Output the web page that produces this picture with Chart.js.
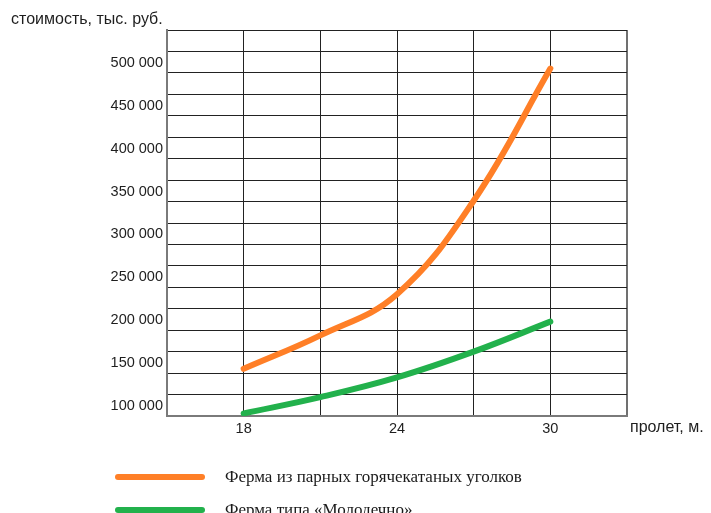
<!DOCTYPE html>
<html>
<head>
<meta charset="utf-8">
<script src="https://cdn.jsdelivr.net/npm/chart.js@4.4.1/dist/chart.umd.min.js"></script>
<style>
    html, body { margin: 0; padding: 0; background: #fff; }
    #wrap { position: relative; width: 711px; height: 513px; overflow: hidden; }
</style>
</head>
<body>
<div id="wrap"><canvas id="chart" width="711" height="513"></canvas></div>
<script>
// Span, m
const spans = [18, 21, 24, 27, 30];
// Cost, thousand rub.
const pairedAngles = [155000, 194000, 242000, 351000, 505000];
const molodechno = [103000, 122000, 145000, 175000, 210000];
const seriesNames = ['Ферма из парных горячекатаных уголков', 'Ферма типа «Молодечно»'];
const xTickLabels = [18, 24, 30];
const yTickLabels = [100000, 150000, 200000, 250000, 300000, 350000, 400000, 450000, 500000];
const yTitle = 'стоимость, тыс. руб.';
const xTitle = 'пролет, м.';

const formatNum = (v) => String(v).replace(/\B(?=(\d{3})+(?!\d))/g, ' ');

// axis titles and legend drawn around the plot
const extras = {
    id: 'extras',
    afterDraw(chart) {
        const { ctx, chartArea } = chart;
        ctx.save();
        ctx.fillStyle = '#1e1e1e';
        ctx.textBaseline = 'middle';
        ctx.font = '16px "Liberation Sans", Arial, sans-serif';
        ctx.textAlign = 'left';
        ctx.fillText(yTitle, 11, 20);
        ctx.fillText(xTitle, chartArea.right + 3, 428);

        const rows = [477, 510];
        chart.data.datasets.forEach((ds, i) => {
            ctx.strokeStyle = ds.borderColor;
            ctx.lineWidth = 6;
            ctx.lineCap = 'round';
            ctx.beginPath();
            ctx.moveTo(118, rows[i]);
            ctx.lineTo(202, rows[i]);
            ctx.stroke();
            ctx.font = '17px "Liberation Serif", "Times New Roman", serif';
            ctx.fillStyle = '#1a1a1a';
            ctx.fillText(ds.label, 225, rows[i] + 1);
        });
        ctx.restore();
    }
};

const tickFont = { family: '"Liberation Sans", Arial, sans-serif', size: 14.5 };

new Chart(document.getElementById('chart'), {
    type: 'line',
    data: {
        labels: spans,
        datasets: [
            {
                label: seriesNames[0],
                data: spans.map((x, i) => ({ x: x, y: pairedAngles[i] })),
                borderColor: '#ff7f27',
                borderWidth: 6,
                borderCapStyle: 'round',
                tension: 0.4,
                pointRadius: 0,
                fill: false
            },
            {
                label: seriesNames[1],
                data: spans.map((x, i) => ({ x: x, y: molodechno[i] })),
                borderColor: '#22b14c',
                borderWidth: 6,
                borderCapStyle: 'round',
                tension: 0.4,
                pointRadius: 0,
                fill: false
            }
        ]
    },
    options: {
        responsive: false,
        animation: false,
        layout: { padding: { left: 0, top: 30, right: 84, bottom: 67 } },
        plugins: {
            legend: { display: false },
            tooltip: { enabled: false }
        },
        scales: {
            x: {
                type: 'linear',
                min: 15,
                max: 33,
                afterFit: (scale) => { scale.height = 30; },
                afterBuildTicks: (scale) => {
                    const t = [];
                    for (let v = 15; v <= 33; v += 3) t.push({ value: v });
                    scale.ticks = t;
                },
                ticks: {
                    autoSkip: false,
                    maxRotation: 0,
                    padding: 4,
                    color: '#1e1e1e',
                    font: tickFont,
                    callback: (v) => xTickLabels.includes(v) ? String(v) : ''
                },
                grid: {
                    drawTicks: false,
                    color: (c) => c.tick && c.tick.value === 33 ? '#707070' : '#222',
                    lineWidth: (c) => c.tick && c.tick.value === 33 ? 2 : 1
                },
                border: { color: '#7a7a7a', width: 2 }
            },
            y: {
                min: 100000,
                max: 550000,
                afterFit: (scale) => { scale.width = 167; },
                ticks: {
                    stepSize: 25000,
                    autoSkip: false,
                    padding: 4,
                    labelOffset: -10,
                    color: '#1e1e1e',
                    font: tickFont,
                    callback: (v) => yTickLabels.includes(v) ? formatNum(v) : ''
                },
                grid: {
                    drawTicks: false,
                    color: '#222',
                    lineWidth: 1
                },
                border: { color: '#7a7a7a', width: 2 }
            }
        }
    },
    plugins: [extras]
});
</script>
</body>
</html>
